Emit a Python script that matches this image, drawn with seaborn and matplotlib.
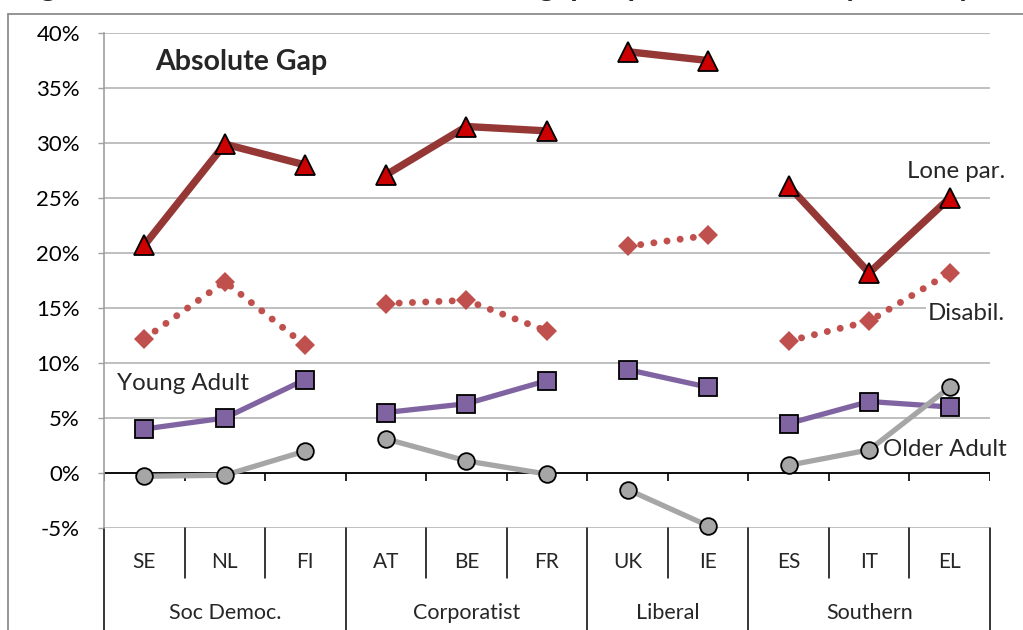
import matplotlib
matplotlib.use("Agg")
import matplotlib.pyplot as plt
import seaborn as sns
import pandas as pd
import numpy as np
from matplotlib.lines import Line2D

# --- data (percent) ---
countries = ['SE', 'NL', 'FI', 'AT', 'BE', 'FR', 'UK', 'IE', 'ES', 'IT', 'EL']
regimes = ['Soc Democ.', 'Soc Democ.', 'Soc Democ.',
           'Corporatist', 'Corporatist', 'Corporatist',
           'Liberal', 'Liberal',
           'Southern', 'Southern', 'Southern']
regime_order = ['Soc Democ.', 'Corporatist', 'Liberal', 'Southern']

lone_par = [20.7, 29.9, 28.0, 27.1, 31.5, 31.1, 38.3, 37.5, 26.1, 18.2, 25.0]
disabil = [12.2, 17.4, 11.6, 15.4, 15.7, 12.9, 20.6, 21.6, 12.0, 13.8, 18.2]
young_adult = [4.0, 5.0, 8.5, 5.5, 6.3, 8.4, 9.4, 7.8, 4.5, 6.5, 6.0]
older_adult = [-0.3, -0.2, 2.0, 3.1, 1.1, -0.1, -1.5, -4.8, 0.7, 2.1, 7.8]

series = {
    'Lone par.': lone_par,
    'Disabil.': disabil,
    'Young Adult': young_adult,
    'Older Adult': older_adult,
}

rows = []
for name, vals in series.items():
    for i, (c, r, v) in enumerate(zip(countries, regimes, vals)):
        rows.append({'series': name, 'country': c, 'pos': i, 'regime': r, 'value': v / 100})
df = pd.DataFrame(rows)

styles = {
    'Lone par.': dict(color='#953735', lw=5.3, marker='^', ms=15, mfc='#CC0000', mec='black', mew=1.3),
    'Disabil.': dict(color='#C0504D', lw=5, ls=(0, (0.01, 1.9)), dash_capstyle='round',
                     marker='D', ms=10, mfc='#C0504D', mec='#C0504D', mew=0),
    'Young Adult': dict(color='#8064A2', lw=3.8, marker='s', ms=13, mfc='#8064A2', mec='black', mew=1.3),
    'Older Adult': dict(color='#A6A6A6', lw=3.8, marker='o', ms=12, mfc='#A6A6A6', mec='black', mew=1.3),
}

sns.set_theme(style='white')
plt.rcParams['font.family'] = ['Lato', 'DejaVu Sans']

W, H = 1023, 630
fig = plt.figure(figsize=(W / 100, H / 100), dpi=100)
ax = fig.add_axes([104 / W, 1 - 528 / H, (990 - 104) / W, (528 - 33) / H])

# lines are broken between welfare regimes
for name in series:
    for reg in regime_order:
        sub = df[(df['series'] == name) & (df['regime'] == reg)]
        sns.lineplot(data=sub, x='pos', y='value', ax=ax, errorbar=None,
                     legend=False, clip_on=False, **styles[name])

ax.set_xlim(-0.5, 10.5)
ax.set_ylim(-0.05, 0.40)
yt = np.arange(-5, 41, 5)
ax.set_yticks(yt / 100)
ax.set_yticklabels([f'{v}%' for v in yt], fontsize=16, color='black')
ax.set_xticks([])
ax.set_xlabel('')
ax.set_ylabel('')
ax.grid(axis='y', color='#BFBFBF', lw=1.4)
ax.set_axisbelow(True)
for s in ['top', 'right', 'bottom']:
    ax.spines[s].set_visible(False)
ax.spines['left'].set_color('#A0A0A0')
ax.spines['left'].set_linewidth(1.2)
ax.tick_params(axis='y', length=4.3, width=1.0, color='#A0A0A0', pad=13, left=True)

# zero axis with tick marks at category boundaries
ax.axhline(0, color='black', lw=1.3, zorder=1.5)
bounds = np.arange(-0.5, 11, 1)
ax.vlines(bounds, -0.0075, 0, color='black', lw=1.2, zorder=1.5)

# category axis below the plot
xt = ax.get_xaxis_transform()
group_bounds = [-0.5, 2.5, 5.5, 7.5, 10.5]
for b in bounds:
    bottom = -0.21 if b in group_bounds else -0.101
    ax.plot([b, b], [0, bottom], transform=xt, color='black', lw=1.1, clip_on=False)
for i, c in enumerate(countries):
    ax.text(i, -0.0687, c, transform=xt, ha='center', va='center', fontsize=15)
for k, reg in enumerate(regime_order):
    mid = (group_bounds[k] + group_bounds[k + 1]) / 2
    ax.text(mid, -0.172, reg, transform=xt, ha='center', va='center', fontsize=15.5)

# in-plot labels
fig.text(155 / W, 1 - 62 / H, 'Absolute Gap', fontsize=20.5, fontweight='bold', va='center', ha='left')
fig.text(117 / W, 1 - 383 / H, 'Young Adult', fontsize=17.3, va='center', ha='left')
fig.text(1005 / W, 1 - 172 / H, 'Lone par.', fontsize=17.3, va='center', ha='right')
fig.text(1005 / W, 1 - 314 / H, 'Disabil.', fontsize=17.3, va='center', ha='right',
         bbox=dict(facecolor='white', edgecolor='none', pad=1.5))
fig.text(1007 / W, 1 - 450 / H, 'Older Adult', fontsize=17.3, va='center', ha='right')

# chart frame and title (cut by the top edge, as in the source)
fig.add_artist(Line2D([8 / W, 1], [1 - 14 / H, 1 - 14 / H], transform=fig.transFigure,
                      color='#8C8C8C', lw=1.3))
fig.add_artist(Line2D([8 / W, 8 / W], [0, 1 - 14 / H], transform=fig.transFigure,
                      color='#8C8C8C', lw=1.3))
fig.text(15 / W, 1 + 4 / H,
         'Figure 5: Risk for the most vulnerable: gap in persistent risk by country',
         fontsize=22, fontweight='bold', va='baseline', ha='left')

fig.savefig('out.png', dpi=100)
